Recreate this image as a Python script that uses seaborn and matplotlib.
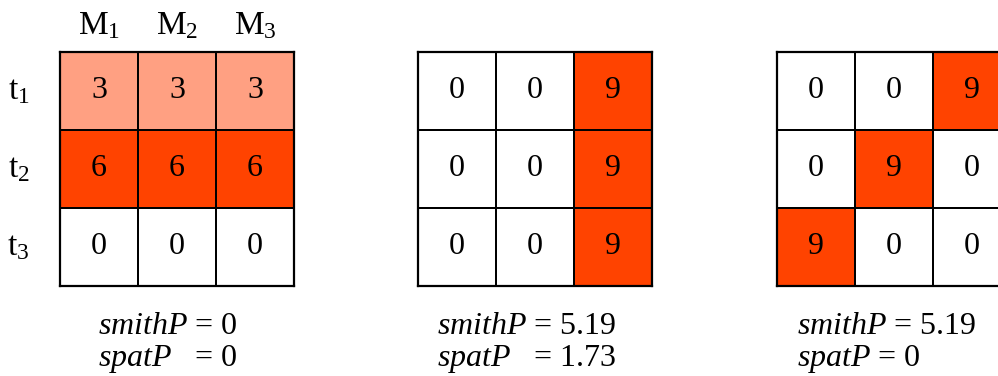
import numpy as np
import matplotlib
matplotlib.use("Agg")
import matplotlib.pyplot as plt
from matplotlib.colors import ListedColormap, BoundaryNorm
import seaborn as sns

# cell values of the three example matrices (rows t1..t3, columns M1..M3)
case_a = [[3, 3, 3], [6, 6, 6], [0, 0, 0]]
case_b = [[0, 0, 9], [0, 0, 9], [0, 0, 9]]
case_c = [[0, 0, 9], [0, 9, 0], [9, 0, 0]]
smith_p = ["0", "5.19", "5.19"]
spat_p = ["0", "1.73", "0"]
col_labels = ["M$_1$", "M$_2$", "M$_3$"]
row_labels = ["t$_1$", "t$_2$", "t$_3$"]

sns.set_style("white")
plt.rcParams["font.family"] = ["Liberation Serif", "DejaVu Serif"]
plt.rcParams["mathtext.fontset"] = "custom"
plt.rcParams["mathtext.rm"] = "Liberation Serif"
plt.rcParams["mathtext.it"] = "Liberation Serif:italic"
plt.rcParams["text.color"] = "black"
plt.rcParams["xtick.color"] = "black"
plt.rcParams["ytick.color"] = "black"

cmap = ListedColormap(["#ffffff", "#ffa082", "#ff4300"])
norm = BoundaryNorm([-0.5, 1.5, 4.5, 10], cmap.N)

W, H = 998, 376
fig = plt.figure(figsize=(W / 100, H / 100), dpi=100)

lefts = [60, 418, 777]
texts_x = [0.49, 0.24, 0.26]
spat_gap = ["  ", "  ", ""]
for k, mat in enumerate([case_a, case_b, case_c]):
    ax = fig.add_axes([lefts[k] / W, 1 - 286 / H, 234 / W, 234 / H])
    sns.heatmap(np.array(mat), ax=ax, cmap=cmap, norm=norm, cbar=False,
                annot=True, fmt="d", annot_kws={"color": "black", "fontsize": 23},
                linewidths=1.1, linecolor="black", square=False)
    for s in ax.spines.values():
        s.set_visible(True)
        s.set_linewidth(1.6)
        s.set_color("black")
    if k == 0:
        ax.xaxis.tick_top()
        ax.set_xticklabels(col_labels, fontsize=24)
        ax.set_yticklabels(row_labels, fontsize=24, rotation=0)
        ax.tick_params(axis="x", length=0, pad=8)
        ax.tick_params(axis="y", length=0, pad=22)
    else:
        ax.set_xticks([])
        ax.set_yticks([])
    ax.set_xlabel("")
    ax.set_ylabel("")
    ax.text(texts_x[k], 3.52, r"$\mathit{smithP}$ = " + smith_p[k],
            fontsize=23, ha="left", va="center", clip_on=False)
    ax.text(texts_x[k], 3.94, r"$\mathit{spatP}$" + spat_gap[k] + " = " + spat_p[k],
            fontsize=23, ha="left", va="center", clip_on=False)

fig.savefig("out.png", dpi=100)
